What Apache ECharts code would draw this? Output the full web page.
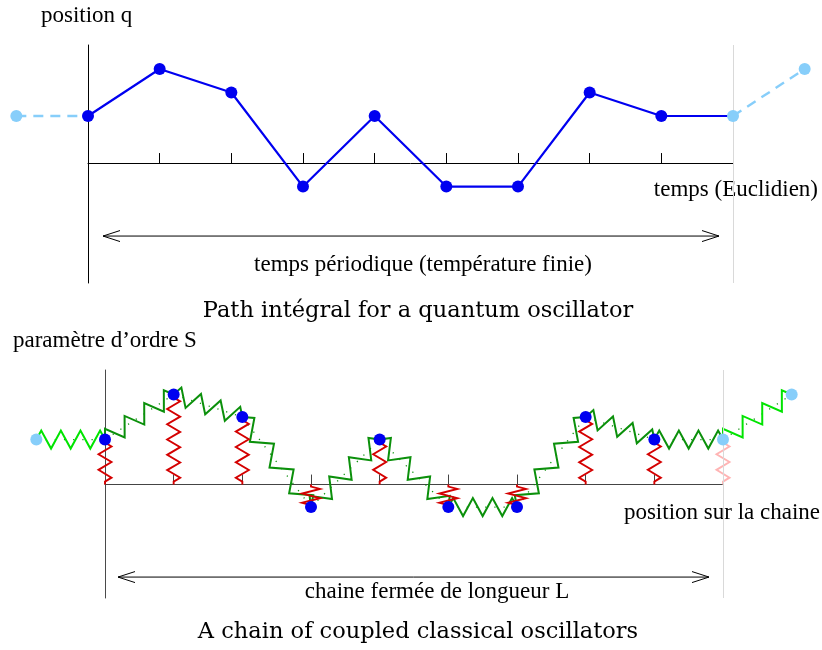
<!DOCTYPE html>
<html><head><meta charset="utf-8">
<script src="https://cdn.jsdelivr.net/npm/echarts@6/dist/echarts.min.js"></script>
<style>html,body{margin:0;padding:0;background:#fff}#c{width:822px;height:650px}</style>
</head><body><div id="c"></div>
<script>
// ---- data ----
const slices = [0, 1, 2, 3, 4, 5, 6, 7, 8];          // time slices / chain sites (periodic: site 9 == site 0)
const pathQ  = [2, 4, 3, -1, 2, -1, -1, 3, 2];       // position q at each Euclidean time slice
const chainS = [2, 4, 3, -1, 2, -1, -1, 3, 2];       // order parameter S at each site of the chain
const tickSites = [1, 2, 3, 4, 5, 6, 7, 8];
const period = 9;

const txtQAxis  = 'position q';
const txtTAxis  = 'temps (Euclidien)';
const txtTSpan  = 'temps périodique (température finie)';
const txtTitle1 = 'Path intégral for a quantum oscillator';
const txtSAxis  = 'paramètre d’ordre S';
const txtXAxis2 = 'position sur la chaine';
const txtXSpan  = 'chaine fermée de longueur L';
const txtTitle2 = 'A chain of coupled classical oscillators';

// ---- derived (periodic images) ----
function periodic(vals) {
  const main = slices.map((s, k) => [s, vals[k]]);
  return {
    main,
    closing: [period, vals[0]],
    leftImage: [-1, vals[period - 1]],
    rightImage: [period + 1, vals[1]]
  };
}
const P = periodic(pathQ);
const C = periodic(chainS);

const BLUE = '#0000f0', LIGHT = '#87cefa', DKGREEN = '#0b900b', LIME = '#00e400',
      RED = '#d40000', PINK = '#ffb4b4';
const SERIF = '"Liberation Serif", "Times New Roman", serif';
const TITLEFONT = '"DejaVu Serif", serif';

function zigzag(p0, p1, n, amp, lead) {
  const dx = p1[0] - p0[0], dy = p1[1] - p0[1];
  const L = Math.hypot(dx, dy) || 1;
  const ux = dx / L, uy = dy / L, nx = uy, ny = -ux;
  const pts = [p0];
  if (lead > 0) pts.push([p0[0] + ux * lead, p0[1] + uy * lead]);
  const inner = L - 2 * lead;
  for (let k = 0; k < n; k++) {
    const d = lead + inner * (k + 0.5) / n;
    const s = (k % 2 === 0 ? 1 : -1) * amp;
    pts.push([p0[0] + ux * d + nx * s, p0[1] + uy * d + ny * s]);
  }
  if (lead > 0) pts.push([p1[0] - ux * lead, p1[1] - uy * lead]);
  pts.push(p1);
  return pts;
}

function renderRed(params, api) {
  const i = api.value(0), v = api.value(1), kind = api.value(2);
  const p0 = api.coord([i, v]), p1 = api.coord([i, 0]);
  const L = Math.abs(p1[1] - p0[1]);
  const compressed = L < 30;
  const n = compressed ? 4 : Math.max(4, Math.round((L - 6) / 7.5));
  const amp = compressed ? 9 : 6.5;
  return {
    type: 'polyline',
    shape: { points: zigzag(p0, p1, n, amp, compressed ? 2 : 3) },
    style: { stroke: kind ? PINK : RED, lineWidth: 1.9, fill: 'none' }
  };
}

function renderGreen(params, api) {
  const i = api.value(0), v0 = api.value(1), v1 = api.value(2), kind = api.value(3);
  const p0 = api.coord([i, v0]), p1 = api.coord([i + 1, v1]);
  return {
    type: 'polyline',
    shape: { points: zigzag(p0, p1, 7, 9, 0) },
    style: { stroke: kind ? LIME : DKGREEN, lineWidth: 2, fill: 'none' }
  };
}

function segRenderer(style) {
  return function (params, api) {
    const a = api.coord([api.value(0), api.value(1)]), b = api.coord([api.value(2), api.value(3)]);
    return { type: 'line', shape: { x1: a[0], y1: a[1], x2: b[0], y2: b[1] }, style };
  };
}

function arrowRenderer(drop, insetL, insetR) {
  return function (params, api) {
    const a = api.coord([api.value(0), 0]), b = api.coord([api.value(1), 0]);
    const y = a[1] + drop, x0 = a[0] + insetL, x1 = b[0] - insetR;
    const st = { stroke: '#000', lineWidth: 1, fill: 'none' };
    return {
      type: 'group', children: [
        { type: 'line', shape: { x1: x0, y1: y, x2: x1, y2: y }, style: st },
        { type: 'polyline', shape: { points: [[x0 + 17, y - 5.5], [x0, y], [x0 + 17, y + 5.5]] }, style: st },
        { type: 'polyline', shape: { points: [[x1 - 17, y - 5.5], [x1, y], [x1 - 17, y + 5.5]] }, style: st }
      ]
    };
  };
}

// spring data for the chain
const redData = C.main.map(p => [p[0], p[1], 0]).concat([[C.closing[0], C.closing[1], 1]]);
const greenData = C.main.map((p, k) => [p[0], p[1], k + 1 < C.main.length ? C.main[k + 1][1] : C.closing[1], 0])
  .concat([[C.leftImage[0], C.leftImage[1], C.main[0][1], 1], [C.closing[0], C.closing[1], C.rightImage[1], 1]]);
const chainAll = [C.leftImage].concat(C.main, [C.closing, C.rightImage]);
const chainPairs = chainAll.slice(0, -1).map((p, k) => [p[0], p[1], chainAll[k + 1][0], chainAll[k + 1][1]]);
const imagePairs = [[P.leftImage[0], P.leftImage[1], P.main[0][0], P.main[0][1]],
                    [P.closing[0], P.closing[1], P.rightImage[0], P.rightImage[1]]];

function grayLine() {
  return { symbol: ['none', 'none'], silent: true, label: { show: false },
    lineStyle: { color: '#d9d9d9', width: 1, type: 'solid' }, data: [{ xAxis: period }] };
}

function xAx(g, color) {
  return { gridIndex: g, type: 'value', min: 0, max: period, interval: 1,
    axisLine: { show: true, onZero: true, lineStyle: { color, width: 1 } },
    axisTick: { show: true, inside: true, length: 10, customValues: tickSites, lineStyle: { color, width: 1 } },
    axisLabel: { show: false }, splitLine: { show: false } };
}
function yAx(g, min, max, color) {
  return { gridIndex: g, type: 'value', min, max,
    axisLine: { show: true, onZero: false, lineStyle: { color, width: 1 } },
    axisTick: { show: false }, axisLabel: { show: false }, splitLine: { show: false } };
}
function text(t, x, y, size, align, font) {
  return { type: 'text', x, y, silent: true,
    style: { text: t, font: size + 'px ' + (font || SERIF), fill: '#000',
      align, verticalAlign: 'middle', textAlign: align, textVerticalAlign: 'middle' } };
}

const option = {
  animation: false,
  backgroundColor: '#fff',
  grid: [
    { left: 88, top: 45, width: 645, height: 238, outerBoundsMode: 'none', containLabel: false },
    { left: 105, top: 370, width: 618, height: 228, outerBoundsMode: 'none', containLabel: false }
  ],
  xAxis: [xAx(0, '#000'), xAx(1, '#444')],
  yAxis: [yAx(0, -5.1, 5.02, '#000'), yAx(1, -5.04, 5.09, '#4a4a4a')],
  series: [
    // ---- top: path integral ----
    { type: 'custom', xAxisIndex: 0, yAxisIndex: 0, clip: false, silent: true, z: 2,
      renderItem: segRenderer({ stroke: LIGHT, lineWidth: 2.4, lineDash: [10, 7], fill: 'none' }),
      data: imagePairs },
    { type: 'line', xAxisIndex: 0, yAxisIndex: 0, clip: false, symbol: 'none', z: 3,
      lineStyle: { color: BLUE, width: 2.2 }, data: P.main.concat([P.closing]), markLine: grayLine() },
    { type: 'scatter', xAxisIndex: 0, yAxisIndex: 0, clip: false, symbolSize: 12, z: 5,
      itemStyle: { color: BLUE, opacity: 1 }, data: P.main },
    { type: 'scatter', xAxisIndex: 0, yAxisIndex: 0, clip: false, symbolSize: 12, z: 5,
      itemStyle: { color: LIGHT, opacity: 1 }, data: [P.leftImage, P.closing, P.rightImage] },
    { type: 'custom', xAxisIndex: 0, yAxisIndex: 0, clip: false, silent: true, z: 2,
      renderItem: arrowRenderer(73, 15, 14), data: [[0, period]] },

    // ---- bottom: chain of coupled oscillators ----
    { type: 'custom', xAxisIndex: 1, yAxisIndex: 1, clip: false, silent: true, z: 1,
      renderItem: segRenderer({ stroke: DKGREEN, lineWidth: 1.3, lineDash: [1.2, 8], fill: 'none' }),
      data: chainPairs },
    { type: 'line', xAxisIndex: 1, yAxisIndex: 1, clip: false, symbol: 'none', z: 0,
      lineStyle: { width: 0, opacity: 0 }, data: [C.main[0]], markLine: grayLine() },
    { type: 'custom', xAxisIndex: 1, yAxisIndex: 1, clip: false, silent: true, z: 2,
      renderItem: renderGreen, data: greenData },
    { type: 'custom', xAxisIndex: 1, yAxisIndex: 1, clip: false, silent: true, z: 3,
      renderItem: renderRed, data: redData },
    { type: 'scatter', xAxisIndex: 1, yAxisIndex: 1, clip: false, symbolSize: 12, z: 5,
      itemStyle: { color: BLUE, opacity: 1 }, data: C.main },
    { type: 'scatter', xAxisIndex: 1, yAxisIndex: 1, clip: false, symbolSize: 12, z: 5,
      itemStyle: { color: LIGHT, opacity: 1 }, data: [C.leftImage, C.closing, C.rightImage] },
    { type: 'custom', xAxisIndex: 1, yAxisIndex: 1, clip: false, silent: true, z: 2,
      renderItem: arrowRenderer(92.5, 13, 14), data: [[0, period]] }
  ],
  graphic: [
    text(txtQAxis, 41, 16, 23, 'left'),
    text(txtTAxis, 818, 190, 23, 'right'),
    text(txtTSpan, 423, 265, 23, 'center'),
    text(txtTitle1, 418, 311, 22.5, 'center', TITLEFONT),
    text(txtSAxis, 13, 341, 23, 'left'),
    text(txtXAxis2, 820, 513, 23, 'right'),
    text(txtXSpan, 437, 592, 23, 'center'),
    text(txtTitle2, 418, 632, 22.5, 'center', TITLEFONT)
  ]
};
const chart = echarts.init(document.getElementById('c'), null, { renderer: 'canvas' });
chart.setOption(option);
</script>
</body></html>
